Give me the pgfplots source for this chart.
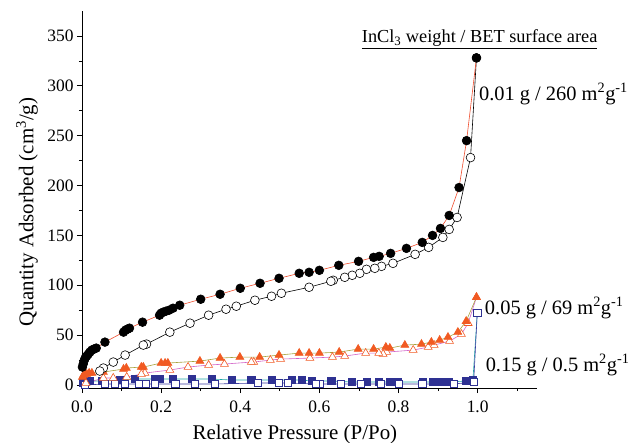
\documentclass[border=0pt]{standalone}
\usepackage{fontspec}
\setmainfont{Liberation Serif}
\usepackage{pgfplots}
\pgfplotsset{compat=1.18}
\definecolor{lineRed}{HTML}{EE4B2B}
\definecolor{triOrange}{HTML}{F15A22}
\definecolor{lineOlive}{HTML}{A8A23C}
\definecolor{linePink}{HTML}{D264C8}
\definecolor{sqNavy}{HTML}{2E3192}
\definecolor{lineTeal}{HTML}{1FA8A8}
\definecolor{lineBlue}{HTML}{3C3CA0}

\begin{document}
\begin{tikzpicture}
\begin{axis}[
    at={(0,0)}, anchor=south west,
    scale only axis,
    width=455bp, height=377bp,
    xmin=0, xmax=1.15,
    ymin=-3, ymax=375,
    axis x line=bottom, axis y line=left,
    axis line style={-, line width=0.7pt},
    tick align=outside,
    major tick length=5bp, minor tick length=3bp,
    tick style={line width=0.7pt, black},
    xtick={0,0.2,0.4,0.6,0.8,1.0},
    minor xtick={0.1,0.3,0.5,0.7,0.9,1.1},
    ytick={0,50,100,150,200,250,300,350},
    minor ytick={25,75,125,175,225,275,325},
    xticklabel style={yshift=-4bp, /pgf/number format/.cd, fixed, fixed zerofill, precision=1, assume math mode=true},
    yticklabel style={/pgf/number format/assume math mode=true},
    tick label style={font=\fontsize{17.5}{19}\selectfont},
    label style={font=\fontsize{21}{23}\selectfont},
    xlabel={Relative Pressure (P/Po)},
    ylabel={Quantity Adsorbed (cm\textsuperscript{3}/g)},
    x label style={at={(axis description cs:0.468,-0.122)}, anchor=center},
    y label style={at={(axis description cs:-0.121,0.467)}, anchor=center},
    clip=false,
]
% 0.15 g, adsorption / desorption
\addplot[color=lineTeal, line width=0.6pt, mark=square*, mark size=3.6pt,
    mark options={fill=sqNavy, draw=sqNavy}] coordinates {
(0.002,2) (0.010,3) (0.020,4) (0.050,4) (0.096,5) (0.134,6) (0.184,6) (0.197,6)
(0.230,6) (0.277,6) (0.328,6) (0.378,5) (0.428,5) (0.479,5) (0.530,5) (0.555,5)
(0.580,4) (0.630,4) (0.681,3) (0.719,3) (0.750,3) (0.777,3) (0.798,3) (0.862,3)
(0.887,3) (0.908,3) (0.926,3) (0.971,4) (0.988,5) (0.999,72)
};
\addplot[color=lineBlue, line width=0.6pt, mark=square*, mark size=3.6pt,
    mark options={fill=white, draw=sqNavy}] coordinates {
(0.999,72) (0.990,3) (0.940,1) (0.860,1) (0.800,1) (0.755,1) (0.705,1) (0.655,1)
(0.600,1) (0.590,1) (0.520,2) (0.497,2) (0.445,2) (0.336,1) (0.285,1) (0.236,1)
(0.185,1) (0.160,1) (0.143,1) (0.109,1) (0.083,1) (0.058,1) (0.008,0)
};
% 0.05 g
\addplot[color=linePink, line width=0.6pt, mark=triangle*, mark size=4.6pt,
    mark options={fill=white, draw=triOrange}] coordinates {
(0.997,88) (0.976,62) (0.959,51) (0.929,44) (0.890,40) (0.875,38) (0.837,35)
(0.770,33) (0.761,31) (0.750,32) (0.717,32) (0.664,29) (0.633,28) (0.576,27)
(0.502,26) (0.476,25) (0.434,23) (0.428,23) (0.360,21) (0.320,20) (0.268,18)
(0.222,15) (0.159,12) (0.150,11) (0.113,8) (0.079,7) (0.054,7) (0.010,2)
};
\addplot[color=lineOlive, line width=0.6pt, mark=triangle*, mark size=4.6pt,
    mark options={fill=triOrange, draw=triOrange}] coordinates {
(0.001,8) (0.004,10) (0.008,11) (0.012,11) (0.018,12) (0.025,12) (0.054,13)
(0.105,16) (0.112,17) (0.150,18) (0.155,18) (0.200,22) (0.210,22) (0.217,22)
(0.298,24) (0.349,27) (0.399,28) (0.449,28) (0.498,30) (0.549,32) (0.574,32)
(0.600,32) (0.650,33) (0.698,36) (0.737,36) (0.768,38) (0.778,37) (0.816,40)
(0.858,41) (0.883,43) (0.904,45) (0.925,48) (0.950,53) (0.971,64) (0.997,88)
};
% 0.01 g
\addplot[color=black, line width=0.6pt, mark=*, mark size=4.4pt,
    mark options={fill=white, draw=black}] coordinates {
(0.997,328) (0.982,228) (0.948,168) (0.928,156) (0.912,148) (0.876,138)
(0.842,131) (0.786,122) (0.757,119) (0.740,117) (0.719,116) (0.702,112)
(0.683,110) (0.664,108) (0.635,105) (0.629,104) (0.574,98) (0.504,92)
(0.479,89) (0.437,85) (0.390,79) (0.364,76) (0.320,70) (0.273,62) (0.222,53)
(0.163,41) (0.155,40) (0.109,30) (0.079,23) (0.054,17) (0.045,14)
};
\addplot[color=lineRed, line width=0.6pt, mark=*, mark size=4.4pt,
    mark options={fill=black, draw=black}] coordinates {
(0.001,18) (0.003,21) (0.005,24) (0.008,27) (0.012,29) (0.016,31) (0.020,33)
(0.025,35) (0.030,36) (0.036,37) (0.058,43) (0.105,53) (0.110,55) (0.115,56)
(0.120,57) (0.153,63) (0.196,70) (0.200,72) (0.205,73) (0.212,74) (0.220,75)
(0.230,77) (0.247,80) (0.300,86) (0.349,91) (0.400,97) (0.450,102) (0.498,107)
(0.549,112) (0.574,113) (0.600,115) (0.649,120) (0.699,124) (0.737,128)
(0.751,129) (0.780,132) (0.820,137) (0.860,143) (0.886,150) (0.906,157)
(0.928,170) (0.953,198) (0.972,245) (0.997,328)
};
\node[font=\fontsize{18.4}{20}\selectfont, anchor=base] at (axis cs:1.005,343)
    {\underline{InCl\textsubscript{3} weight / BET surface area}};
\node[font=\fontsize{20.5}{22}\selectfont, anchor=west, inner sep=0pt] at (axis cs:1.003,292)
    {0.01 g / 260 m\textsuperscript{2}g\textsuperscript{-1}};
\node[font=\fontsize{20.5}{22}\selectfont, anchor=west, inner sep=0pt] at (axis cs:1.018,77)
    {0.05 g / 69 m\textsuperscript{2}g\textsuperscript{-1}};
\node[font=\fontsize{20.5}{22}\selectfont, anchor=west, inner sep=0pt] at (axis cs:1.02,20)
    {0.15 g / 0.5 m\textsuperscript{2}g\textsuperscript{-1}};
\end{axis}
\pgfresetboundingbox
\path[use as bounding box] (-82bp,-55bp) rectangle (547bp,388bp);
\end{tikzpicture}
\end{document}
